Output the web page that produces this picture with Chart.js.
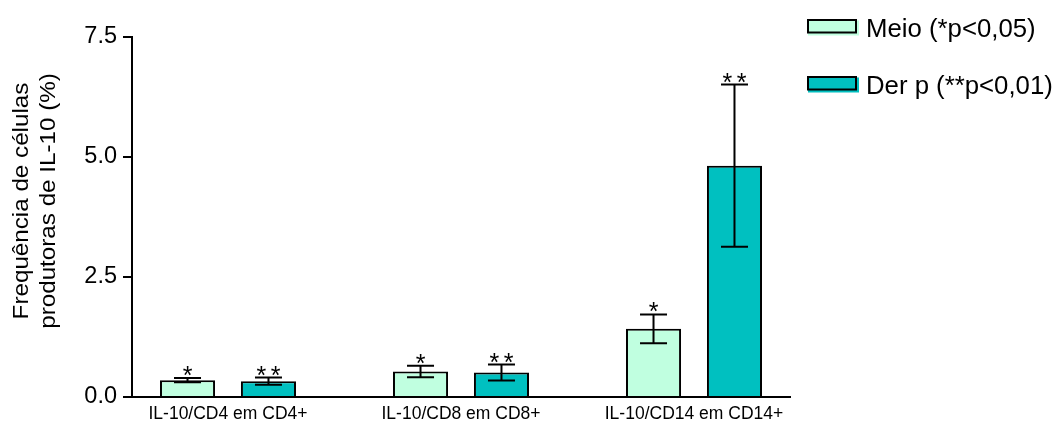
<!DOCTYPE html>
<html>
<head>
<meta charset="utf-8">
<script src="https://cdn.jsdelivr.net/npm/chart.js@4.4.1/dist/chart.umd.min.js"></script>
<style>
    html, body { margin: 0; padding: 0; background: #fff; }
    #wrap { width: 1062px; height: 426px; }
</style>
</head>
<body>
<div id="wrap"><canvas id="il10-chart" width="1062" height="426"></canvas></div>
<script>
const categories = ['IL-10/CD4 em CD4+', 'IL-10/CD8 em CD8+', 'IL-10/CD14 em CD14+'];
const seriesLabels = ['Meio (*p<0,05)', 'Der p (**p<0,01)'];
const meioValues = [0.35, 0.53, 1.42];
const meioErrors = [0.045, 0.12, 0.30];
const meioMarks = ['*', '*', '*'];
const derpValues = [0.33, 0.51, 4.82];
const derpErrors = [0.075, 0.165, 1.69];
const derpMarks = ['**', '**', '**'];
const yTicks = [0, 2.5, 5.0, 7.5];
const yTitle = ['Frequência de células', 'produtoras de IL-10 (%)'];

const FONT = '"Liberation Sans", Arial, sans-serif';

// error bars + significance stars, drawn from the y scale
const errorBars = {
    id: 'errorBars',
    afterDatasetsDraw(chart) {
        const ctx = chart.ctx;
        const y = chart.scales.y;
        ctx.save();
        ctx.strokeStyle = '#000';
        ctx.lineWidth = 2;
        ctx.fillStyle = '#000';
        ctx.font = '25px ' + FONT;
        ctx.textAlign = 'center';
        ctx.textBaseline = 'alphabetic';
        chart.data.datasets.forEach((ds, di) => {
            const meta = chart.getDatasetMeta(di);
            meta.data.forEach((bar, i) => {
                const v = ds.data[i].y;
                const e = ds.errors[i];
                const top = y.getPixelForValue(v + e);
                const bot = y.getPixelForValue(v - e);
                const cap = 13.5;
                ctx.beginPath();
                ctx.moveTo(bar.x, top);
                ctx.lineTo(bar.x, bot);
                ctx.moveTo(bar.x - cap, top);
                ctx.lineTo(bar.x + cap, top);
                ctx.moveTo(bar.x - cap, bot);
                ctx.lineTo(bar.x + cap, bot);
                ctx.stroke();

                const mark = ds.marks[i];
                const step = 14.4;
                const x0 = bar.x - (mark.length - 1) * step / 2;
                for (let k = 0; k < mark.length; k++) {
                    ctx.fillText(mark[k], x0 + k * step, top + 6);
                }
            });
        });
        ctx.restore();
    }
};

// two-line rotated y title (slightly stretched like the original)
const yTitlePlugin = {
    id: 'yTitlePlugin',
    afterDraw(chart) {
        const ctx = chart.ctx;
        const cy = 201;
        const baselines = [28, 55];
        ctx.save();
        ctx.fillStyle = '#000';
        ctx.font = '22px ' + FONT;
        ctx.textAlign = 'center';
        ctx.textBaseline = 'alphabetic';
        yTitle.forEach((line, i) => {
            ctx.save();
            ctx.translate(baselines[i], cy);
            ctx.rotate(-Math.PI / 2);
            ctx.scale(1.1, 1);
            ctx.fillText(line, 0, 0);
            ctx.restore();
        });
        ctx.restore();
    }
};

// legend at top right
const sideLegend = {
    id: 'sideLegend',
    afterDraw(chart) {
        const ctx = chart.ctx;
        const rows = [26.5, 83.5];
        ctx.save();
        chart.data.datasets.forEach((ds, i) => {
            const cy = rows[i];
            ctx.fillStyle = ds.backgroundColor;
            ctx.fillRect(808, cy - 6, 51, 15);
            ctx.strokeStyle = '#000';
            ctx.lineWidth = 2;
            ctx.strokeRect(808, cy - 6.5, 48, 12.5);
            ctx.fillStyle = '#000';
            ctx.font = '25px ' + FONT;
            ctx.textBaseline = 'alphabetic';
            ctx.textAlign = 'left';
            ctx.save();
            ctx.translate(866, cy + 10);
            ctx.scale(1.03, 1);
            ctx.fillText(ds.label, 0, 0);
            ctx.restore();
        });
        ctx.restore();
    }
};

new Chart(document.getElementById('il10-chart'), {
    type: 'bar',
    data: {
        datasets: [
            {
                label: seriesLabels[0],
                data: meioValues.map((v, i) => ({ x: i, y: v })),
                errors: meioErrors,
                marks: meioMarks,
                backgroundColor: '#c0ffe0',
                borderColor: '#000',
                borderWidth: 2,
                categoryPercentage: 0.695,
                barPercentage: 0.68
            },
            {
                label: seriesLabels[1],
                data: derpValues.map((v, i) => ({ x: i, y: v })),
                errors: derpErrors,
                marks: derpMarks,
                backgroundColor: '#00c0c0',
                borderColor: '#000',
                borderWidth: 2,
                categoryPercentage: 0.695,
                barPercentage: 0.68
            }
        ]
    },
    options: {
        responsive: false,
        animation: false,
        layout: { padding: { top: 37, right: 272, bottom: 0, left: 0 } },
        plugins: {
            legend: { display: false },
            tooltip: { enabled: false }
        },
        scales: {
            x: {
                type: 'linear',
                min: -0.412,
                max: 2.412,
                offset: false,
                grid: { display: false, drawTicks: false },
                border: { color: '#000', width: 2 },
                afterBuildTicks: s => { s.ticks = categories.map((c, i) => ({ value: i })); },
                afterFit: s => { s.height = 29; },
                ticks: {
                    autoSkip: false,
                    maxRotation: 0,
                    padding: 7,
                    color: '#000',
                    font: { family: FONT, size: 17.5 },
                    callback: v => categories[v]
                }
            },
            y: {
                min: 0,
                max: 7.5,
                grid: { drawOnChartArea: false, drawTicks: true, tickLength: 9, color: '#000', lineWidth: 2 },
                border: { color: '#000', width: 2 },
                afterBuildTicks: s => { s.ticks = yTicks.map(v => ({ value: v })); },
                afterFit: s => { s.width = 132; },
                ticks: {
                    padding: 6,
                    color: '#000',
                    font: { family: FONT, size: 23.5 },
                    callback: v => v.toFixed(1)
                }
            }
        }
    },
    plugins: [errorBars, yTitlePlugin, sideLegend]
});
</script>
</body>
</html>
